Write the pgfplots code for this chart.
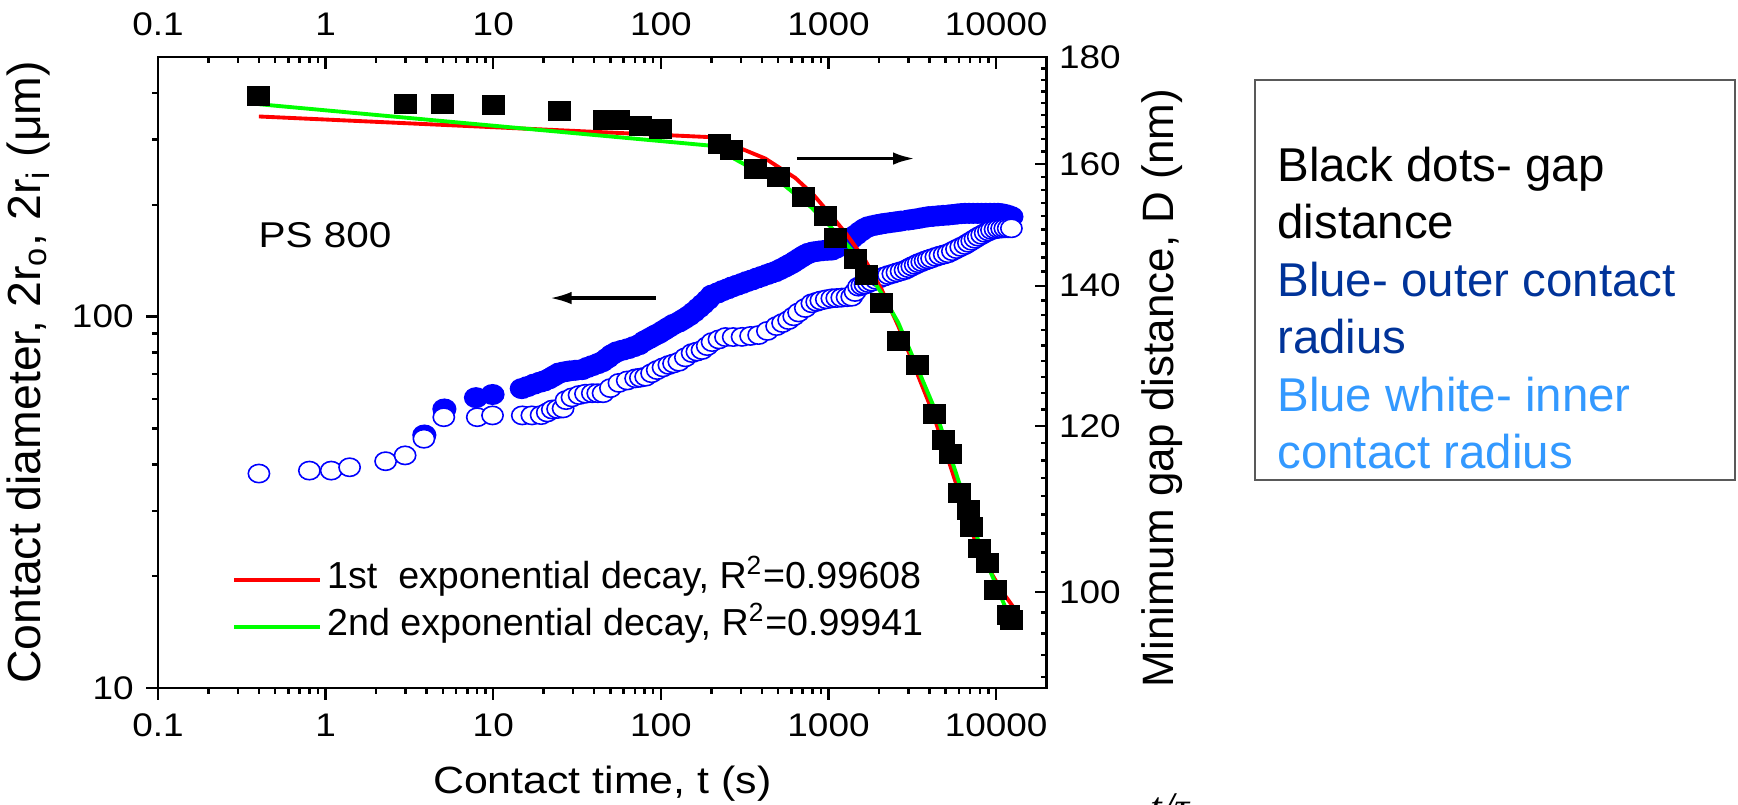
\documentclass[border=0pt]{standalone}
\usepackage{pgfplots}
\usepackage{pgfplotstable}
\pgfplotsset{compat=1.18}
\usepackage{fontspec}
\setmainfont{Liberation Sans}
\newfontfamily\wsans{Liberation Sans}[FakeStretch=1.13]
\newfontfamily\serifit{Liberation Serif}
\usetikzlibrary{arrows.meta}
\definecolor{mblue}{RGB}{0,0,255}
\definecolor{mred}{RGB}{255,0,0}
\definecolor{mgreen}{RGB}{0,255,0}
\definecolor{tdblue}{RGB}{0,51,153}
\definecolor{tlblue}{RGB}{51,153,255}

\pgfplotstableread{
t d
3.88 48.0
5.11 56.4
7.89 60.5
9.9 61.7
14.8 64.0
16 64.8
17.5 65.8
19 66.6
20.1 67.1
21.5 68.0
23 69.2
24.7 70.5
26.5 71.0
28.5 71.4
31 71.7
33.9 72.0
36.5 73.0
39 73.8
42 74.7
44.7 75.6
48 77.3
51 79.0
54.7 80.4
59 81.2
64 82.0
69 83.0
74 84.0
80 86
86 87.5
92 89
97.3 90.1
104 91.8
111 93.5
119 95.3
128 96.7
137 98.5
147 100.5
157 102.8
168 105.5
178 108
190 111
202 114.3
218 115.8
234 117.5
250 118.8
266 120.2
285 121.5
305 122.8
326 124.3
349 125.5
375 127
400 128.3
430 129.8
455 131
482 132.1
515 134
550 136
580 137.8
605 139.2
640 141.5
680 144
720 146.3
760 148.1
810 149.3
870 150
930 150.6
990 150.9
1047 151.1
1110 153
1180 155.5
1250 158.2
1320 160.5
1376 162.5
1460 166
1550 169.5
1640 172.5
1730 174.6
1840 175.8
1950 176.8
2060 177.6
2176 178.3
2330 179.1
2500 179.9
2700 180.8
2993 182.0
3200 182.8
3450 183.8
3700 184.9
3937 185.8
4200 186.2
4500 186.8
4830 187.3
5177 187.7
5500 188.3
5850 188.9
6200 189.4
6513 189.7
6900 189.7
7300 189.7
7750 189.7
8180 189.7
8650 189.7
9200 189.7
9750 189.7
10280 189.7
10800 189.2
11300 188.3
11800 187.2
12330 185.8
}\outertab

\pgfplotstableread{
t d
0.40 37.8
0.80 38.5
1.08 38.5
1.39 39.3
2.28 40.8
2.98 42.3
3.86 46.9
5.07 53.6
8.03 53.6
9.9 54.2
14.9 54.2
17 54.2
19.3 54.3
21 55.2
22.5 56.2
24.2 56.4
26.1 56.6
27.2 59.6
29.5 60.6
32.5 61.5
35.5 62.0
39 62.2
42 62.2
45.2 62.2
50 64.2
56.2 66.3
63 67.3
70.7 68.2
75.5 68.5
81.1 68.9
88 70.4
95.1 71.8
103 73.0
111.6 74.1
119 74.8
128 75.6
140 77.7
153.6 79.8
164 80.5
176 81.3
189 83.3
202 85.4
222 86.8
243 88.1
270 88.1
305 88.2
343 88.7
383 89.2
432 91.5
490 94.3
532 96.1
578 97.9
620 100.2
663 102.6
727 105.5
796 108.6
850 109.6
900 110.5
970 111.3
1047 112.0
1120 112.2
1200 112.5
1290 112.8
1376 113.1
1440 116.5
1510 120.4
1580 121.2
1650 122
1730 123.1
1811 124.2
1920 125.6
2030 127
2150 128.2
2276 129.4
2420 130.4
2560 131.5
2710 132.5
2862 133.5
3000 135
3140 136.5
3290 137.8
3434 139.2
3600 140.3
3770 141.5
3940 142.5
4120 143.5
4370 144.8
4620 146
4900 147
5177 148.1
5480 150
5800 152
6150 154
6513 155.9
6830 158
7150 160
7480 162
7816 164.1
8200 166
8600 168
9000 169.6
9380 171.1
9850 171.8
10300 172.5
10780 172.7
11270 172.9
11800 172.9
12330 172.9
}\innertab

\pgfplotstableread{
t D
0.40 172.5
3 170.9
5 170.9
10 170.7
25 169.6
45.8 168.0
55.5 168.0
75.7 166.9
100 166.3
223 163.6
265 162.5
366 159.2
504 157.8
710 154.4
955 151.1
1096 147.5
1442 144.2
1690 141.7
2076 137.4
2611 131.7
3388 128.3
4315 121.6
4837 118.2
5376 116.4
6081 111.5
6813 109.4
7130 107.4
8000 104.9
8873 103.2
9955 100.2
11780 97.5
12330 97.0
}\gaptab

\pgfplotstableread{
t D
0.40 168.6
206.5 164.8
420 161.0
634 157.6
814 154.7
1047 151.1
1285 148.1
1653 144.0
2076 139.4
2611 133.9
4120 122.2
7816 104.7
10715 100.2
12620 98.4
}\fitone

\pgfplotstableread{
t D
0.40 170.9
197.6 163.3
319 159.9
482 157.6
796 152.5
1096 148.6
1376 145.6
1653 142.9
2076 138.8
2611 134.4
4315 122.2
8180 104.7
12330 96.8
}\fittwo

\begin{document}
\begin{tikzpicture}
\useasboundingbox (0,0) rectangle (173.8mm,80.4mm);

\begin{axis}[
  at={(15.8mm,11.6mm)}, anchor=south west,
  scale only axis, width=88.86mm, height=63.1mm,
  xmode=log, ymode=log, xmin=0.1, xmax=20000,
  xtick={0.1,1,10,100,1000,10000},
  xticklabels={0.1,1,10,100,1000,10000},
  minor xtick={0.2,0.3,0.4,0.5,0.6,0.7,0.8,0.9,2,3,4,5,6,7,8,9,20,30,40,50,60,70,80,90,200,300,400,500,600,700,800,900,2000,3000,4000,5000,6000,7000,8000,9000},
  major tick length=1.2mm, minor tick length=0.6mm,
  axis line style={line width=0.8pt},
  tick style={line width=0.7pt, black},
  tick label style={font=\wsans\fontsize{9.3}{11}\selectfont},
  label style={font=\fontsize{12.5}{15}\selectfont},
  ymin=10, ymax=500,
  ytick={10,100}, yticklabels={10,100},
  minor ytick={20,30,40,50,60,70,80,90,200,300,400},
  xtick pos=left, ytick pos=left, tick align=outside,
  xticklabel style={yshift=-0.15mm},
  xlabel={Contact time, t (s)},
  ylabel={Contact diameter, 2r\textsubscript{o}, 2r\textsubscript{i} (μm)},
  xlabel style={at={(axis description cs:0.5,-0.152)}, anchor=center, font=\wsans\fontsize{10.8}{13}\selectfont},
  ylabel style={at={(axis description cs:-0.146,0.5)}, anchor=center, font=\fontsize{13.2}{15}\selectfont},
]
\addplot[only marks, mark=*, mark size=3.0pt,
  mark options={xscale=1.08, yscale=0.93, fill=mblue, draw=mblue}]
  table[x=t, y=d] {\outertab};
\addplot[only marks, mark=*, mark size=2.8pt,
  mark options={xscale=1.08, yscale=0.93, fill=white, draw=mblue, line width=0.45pt}]
  table[x=t, y=d] {\innertab};
\draw[-{Latex[length=2.2mm,width=1.25mm]}, line width=1pt] (axis cs:93,112.2) -- (axis cs:21.7,112.2);
\node[anchor=west, inner sep=0pt, font=\wsans\fontsize{10.2}{12}\selectfont] at (axis cs:0.394,165.8) {PS 800};
\end{axis}

\begin{axis}[
  at={(15.8mm,11.6mm)}, anchor=south west,
  scale only axis, width=88.86mm, height=63.1mm,
  xmode=log, ymode=log, xmin=0.1, xmax=20000,
  xtick={0.1,1,10,100,1000,10000},
  xticklabels={0.1,1,10,100,1000,10000},
  minor xtick={0.2,0.3,0.4,0.5,0.6,0.7,0.8,0.9,2,3,4,5,6,7,8,9,20,30,40,50,60,70,80,90,200,300,400,500,600,700,800,900,2000,3000,4000,5000,6000,7000,8000,9000},
  major tick length=1.2mm, minor tick length=0.6mm,
  axis line style={line width=0.8pt},
  tick style={line width=0.7pt, black},
  tick label style={font=\wsans\fontsize{9.3}{11}\selectfont},
  label style={font=\fontsize{12.5}{15}\selectfont},
  ymin=90, ymax=180,
  ytick={100,120,140,160,180}, yticklabels={100,120,140,160,180},
  minor ytick={91.111,93.333,95.556,97.778,102.222,104.444,106.667,108.889,111.111,113.333,115.556,117.778,122.222,124.444,126.667,128.889,131.111,133.333,135.556,137.778,142.222,144.444,146.667,148.889,151.111,153.333,155.556,157.778,162.222,164.444,166.667,168.889,171.111,173.333,175.556,177.778},
  xtick pos=right, ytick pos=right, xticklabel pos=right, yticklabel pos=right,
  tick align=inside,
  xticklabel style={yshift=0.9mm},
  ylabel={Minimum gap distance, D (nm)},
  ylabel style={at={(axis description cs:1.13,0.475)}, anchor=center},
  legend style={at={(axis description cs:0.0833,0.134)}, anchor=west,
    draw=none, fill=none, inner sep=0pt, row sep=1.3mm,
    font=\fontsize{10.7}{12}\selectfont,
    nodes={inner ysep=0pt, inner xsep=0.5mm, text height=2.6mm, text depth=0.8mm}},
  legend cell align=left,
  legend image code/.code={\draw[#1, line width=1pt] (0mm,0mm) -- (8.6mm,0mm);},
]
\addplot[only marks, mark=square*, mark size=2.85pt, black,
  mark options={xscale=1.08, yscale=0.92}, forget plot]
  table[x=t, y=D] {\gaptab};
\addplot[mred, line width=1.1pt] table[x=t, y=D] {\fitone};
\addlegendentry{1st\ \ exponential decay, R\textsuperscript{2}=0.99608}
\addplot[mgreen, line width=1.1pt] table[x=t, y=D] {\fittwo};
\addlegendentry{2nd exponential decay, R\textsuperscript{2}=0.99941}
\draw[-{Latex[length=2.2mm,width=1.25mm]}, line width=1pt] (axis cs:647,161.0) -- (axis cs:3281,161.0);
\end{axis}

\draw[gray!70!black, line width=0.5pt] (125.5mm,72.4mm) rectangle (173.5mm,32.4mm);
\begin{scope}[every node/.style={anchor=base west, inner sep=0pt, font=\fontsize{13.5}{16.3}\selectfont}]
\node at (127.67mm,62.23mm) {Black dots- gap};
\node at (127.67mm,56.57mm) {distance};
\node[text=tdblue] at (127.67mm,50.73mm) {Blue- outer contact};
\node[text=tdblue] at (127.67mm,45.07mm) {radius};
\node[text=tlblue] at (127.67mm,39.23mm) {Blue white- inner};
\node[text=tlblue] at (127.67mm,33.57mm) {contact radius};
\end{scope}
\node[anchor=north west, inner sep=0pt, font=\serifit\itshape\fontsize{12}{14}\selectfont] at (115mm,1.1mm) {t/τ};
\end{tikzpicture}
\end{document}
